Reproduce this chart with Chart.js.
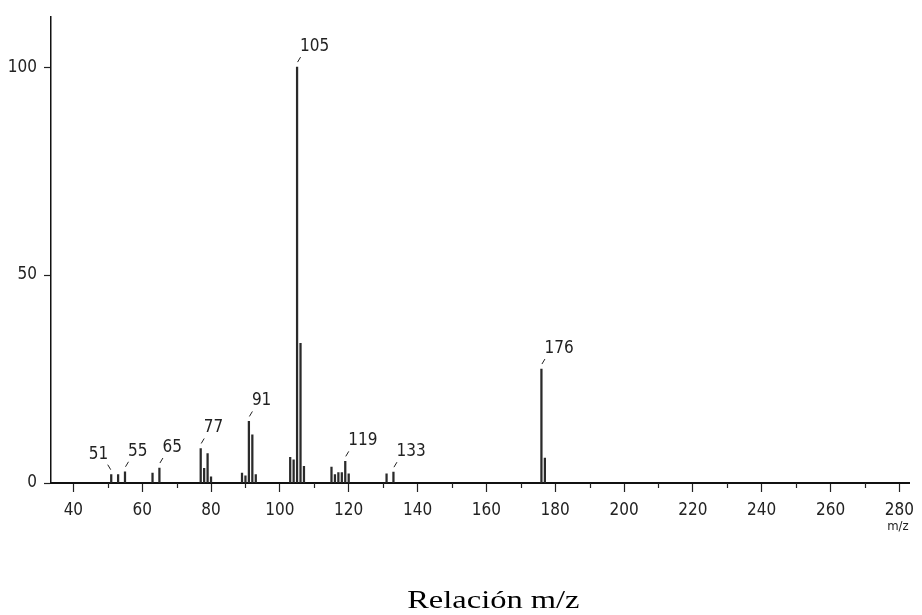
<!DOCTYPE html>
<html><head><meta charset="utf-8">
<script src="https://cdn.jsdelivr.net/npm/chart.js@4.4.1/dist/chart.umd.min.js"></script>
<style>html,body{margin:0;padding:0;background:#fff;}#wrap{width:922px;height:615px;}</style>
</head><body><div id="wrap"><canvas id="c" width="922" height="615"></canvas></div>
<script>
// m/z values and relative intensities (%)
const mzValues = [51, 53, 55, 63, 65, 77, 78, 79, 80, 89, 90, 91, 92, 93, 103, 104, 105, 106, 107, 115, 116, 117, 118, 119, 120, 131, 133, 176, 177];
const intensities = [2, 2, 2.7, 2.4, 3.6, 8.3, 3.5, 7.1, 1.5, 2.4, 1.7, 14.8, 11.6, 2, 6.2, 5.6, 100, 33.6, 4, 3.8, 2, 2.5, 2.5, 5.2, 2.2, 2.2, 2.6, 27.4, 6];
const xTickValues = [40, 50, 60, 70, 80, 90, 100, 110, 120, 130, 140, 150, 160, 170, 180, 190, 200, 210, 220, 230, 240, 250, 260, 270, 280];
const xLabelStep = 20;
const yTickValues = [0, 50, 100];
const peakLabels = [51, 55, 65, 77, 91, 105, 119, 133, 176];
const leftSidePeakLabels = [51];
const axisTitle = 'Relación m/z';
const unitLabel = 'm/z';

const plotFont = "'Liberation Sans Narrow','DejaVu Sans Condensed','DejaVu Sans',sans-serif";
const ink = '#222';

const points = mzValues.map((m, i) => ({ x: m, y: intensities[i] }));

const decorPlugin = {
  id: 'decor',
  afterDraw(chart) {
    const { ctx, scales: { x, y } } = chart;
    ctx.save();
    // minor x ticks
    ctx.strokeStyle = ink; ctx.lineWidth = 1.2;
    xTickValues.forEach(v => {
      if (v % xLabelStep !== 0) {
        const px = Math.round(x.getPixelForValue(v)) + 0.5;
        ctx.beginPath(); ctx.moveTo(px, y.bottom); ctx.lineTo(px, y.bottom + 5); ctx.stroke();
      }
    });
    // peak labels
    ctx.font = '17px ' + plotFont;
    ctx.fillStyle = ink;
    ctx.textBaseline = 'alphabetic';
    ctx.lineWidth = 1;
    peakLabels.forEach(m => {
      const v = intensities[mzValues.indexOf(m)];
      const px = x.getPixelForValue(m);
      const py = y.getPixelForValue(v);
      const left = leftSidePeakLabels.includes(m);
      const d = left ? -1 : 1;
      ctx.beginPath(); ctx.moveTo(px + d * 0.5, py - 5); ctx.lineTo(px + d * 3.5, py - 10); ctx.stroke();
      ctx.textAlign = left ? 'right' : 'left';
      ctx.fillText(String(m), px + d * 3, py - 16);
    });
    // small unit label
    ctx.font = '13px ' + plotFont;
    ctx.textAlign = 'right';
    ctx.fillText(unitLabel, x.right - 1, 530);
    // axis title
    ctx.translate((x.left + x.right) / 2 + 13, 608);
    ctx.scale(1.3, 1);
    ctx.font = "25px 'Liberation Serif','Times New Roman',serif";
    ctx.textAlign = 'center';
    ctx.fillStyle = '#000';
    ctx.fillText(axisTitle, 0, 0);
    ctx.restore();
  }
};

new Chart(document.getElementById('c'), {
  type: 'bar',
  data: {
    datasets: [{
      data: points,
      backgroundColor: '#2a2a2a',
      borderWidth: 0,
      barThickness: 1.6,
      grouped: false
    }]
  },
  options: {
    responsive: false,
    devicePixelRatio: 1,
    animation: false,
    events: [],
    layout: { padding: { top: 13, right: 4, left: 0, bottom: 0 } },
    plugins: { legend: { display: false }, tooltip: { enabled: false }, title: { display: false } },
    scales: {
      x: {
        type: 'linear',
        min: 33.5, max: 283,
        offset: false,
        afterFit: s => { s.height = 132; },
        afterBuildTicks: s => { s.ticks = xTickValues.map(v => ({ value: v })); },
        grid: {
          offset: false, drawOnChartArea: false, drawTicks: true, tickLength: 9, tickWidth: 1.2,
          tickColor: c => (c.tick && c.tick.value % xLabelStep === 0) ? ink : 'rgba(0,0,0,0)'
        },
        border: { display: true, color: '#111', width: 2 },
        ticks: {
          autoSkip: false, maxRotation: 0, padding: 8, color: ink,
          font: { size: 17, family: plotFont },
          callback: v => (v % xLabelStep === 0 ? String(v) : '')
        }
      },
      y: {
        min: 0, max: 112,
        afterFit: s => { s.width = 51; },
        afterBuildTicks: s => { s.ticks = yTickValues.map(v => ({ value: v })); },
        grid: { drawOnChartArea: false, drawTicks: true, tickLength: 7, tickColor: ink, tickWidth: 1.2 },
        border: { display: true, color: '#111', width: 1.5 },
        ticks: { padding: 7, color: ink, font: { size: 17, family: plotFont } }
      }
    }
  },
  plugins: [decorPlugin]
});
</script></body></html>
